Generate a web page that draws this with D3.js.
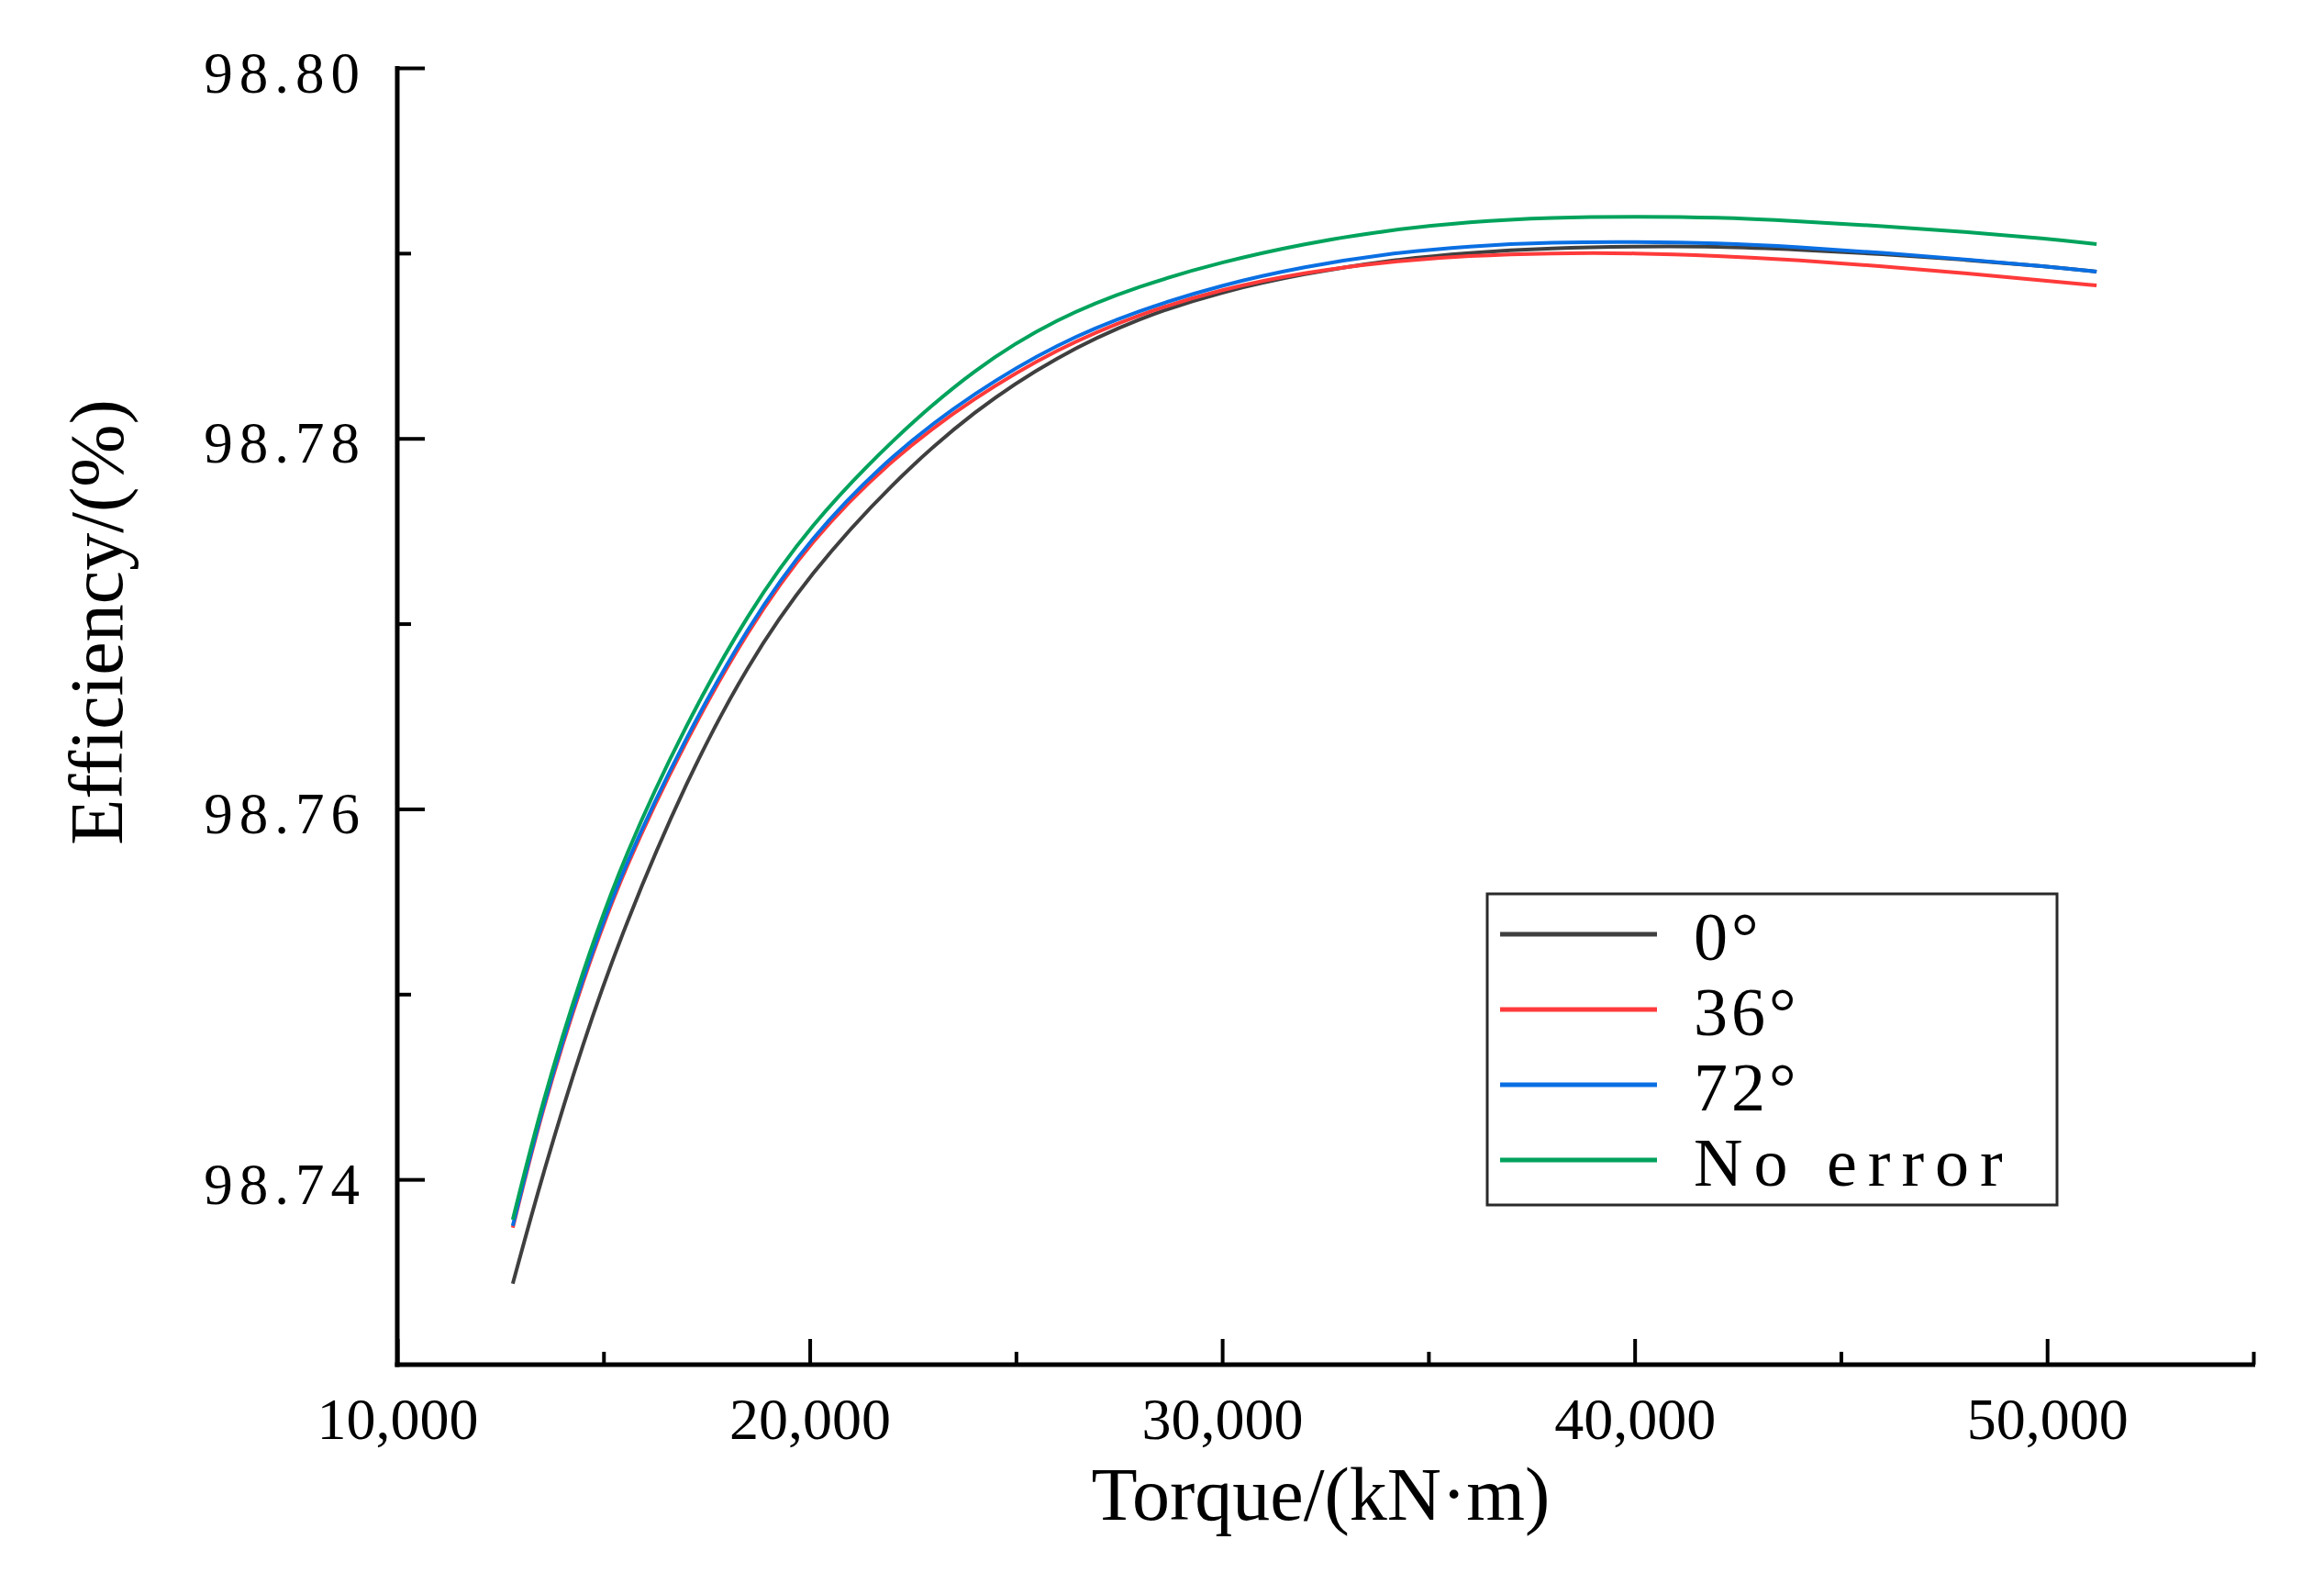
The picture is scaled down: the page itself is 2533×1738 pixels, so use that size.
<!DOCTYPE html>
<html>
<head>
<meta charset="utf-8">
<script src="https://cdn.jsdelivr.net/npm/d3@7/dist/d3.min.js"></script>
<style>
  html, body { margin: 0; padding: 0; background: #ffffff; }
  svg { display: block; }
</style>
</head>
<body>
<script>
// ---- data ----
const torque = [12800, 13500, 14500, 15500, 17000, 18500, 20000, 22000, 24000, 26000, 28000, 30000,
                32000, 34000, 36000, 38000, 40000, 42000, 44000, 46000, 48000, 50000, 51200];
const eff0deg = [98.73437, 98.74010, 98.74740, 98.75365, 98.76152, 98.76785, 98.77270, 98.77762,
                 98.78155, 98.78445, 98.78653, 98.78794, 98.78890, 98.78961, 98.79004, 98.79028,
                 98.79037, 98.79037, 98.79019, 98.78996, 98.78965, 98.78928, 98.78900];
const eff36deg = [98.73739, 98.74368, 98.75081, 98.75680, 98.76374, 98.76968, 98.77444, 98.77895,
                  98.78223, 98.78485, 98.78674, 98.78807, 98.78897, 98.78954, 98.78987, 98.79001,
                  98.79001, 98.78986, 98.78962, 98.78930, 98.78892, 98.78850, 98.78826];
const eff72deg = [98.73749, 98.74383, 98.75096, 98.75698, 98.76391, 98.76985, 98.77462, 98.77917,
                  98.78250, 98.78513, 98.78694, 98.78830, 98.78928, 98.78998, 98.79039, 98.79059,
                  98.79061, 98.79055, 98.79033, 98.79002, 98.78967, 98.78929, 98.78900];
const effNoError = [98.73783, 98.74407, 98.75131, 98.75747, 98.76460, 98.77058, 98.77530, 98.77995,
                    98.78380, 98.78651, 98.78825, 98.78954, 98.79052, 98.79124, 98.79171, 98.79193,
                    98.79198, 98.79194, 98.79172, 98.79147, 98.79116, 98.79078, 98.79049];
const seriesNames = ["0°", "36°", "72°", "No error"];
const seriesColors = ["#3f3f3f", "#ff3a3a", "#0a6fe3", "#00a35c"];
const xMajorTicks = [10000, 20000, 30000, 40000, 50000];
const xMinorTicks = [15000, 25000, 35000, 45000, 55000];
const yMajorTicks = [98.74, 98.76, 98.78, 98.80];
const yMinorTicks = [98.75, 98.77, 98.79];
const xTitle = "Torque/(kN·m)";
const yTitle = "Efficiency/(%)";

// ---- layout ----
const W = 2533, H = 1738;
const plotL = 433, plotR = 2456, plotT = 74, plotB = 1487;

const svg = d3.select("body").append("svg").attr("width", W).attr("height", H);
svg.append("rect").attr("width", W).attr("height", H).attr("fill", "#fff");

const x = d3.scaleLinear().domain([10000, 55000]).range([plotL, plotR]);
const y = d3.scaleLinear().domain([98.73, 98.80]).range([plotB, plotT]);

// ---- curves ----
const seriesValues = [eff0deg, eff36deg, eff72deg, effNoError];
const line = d3.line().x(d => x(d[0])).y(d => y(d[1])).curve(d3.curveBasis);
seriesValues.forEach((vals, i) => {
  svg.append("path")
    .datum(torque.map((t, j) => [t, vals[j]]))
    .attr("d", line)
    .attr("fill", "none")
    .attr("stroke", seriesColors[i])
    .attr("stroke-width", 4)
    .attr("stroke-linejoin", "round");
});

// ---- axes ----
const axisColor = "#000";
// x axis
const gx = svg.append("g").attr("transform", `translate(0,${plotB})`);
gx.call(d3.axisBottom(x).tickValues(xMajorTicks).tickSize(-28).tickFormat(d3.format(",")).tickPadding(0));
gx.select(".domain").remove();
gx.selectAll(".tick line").attr("stroke", axisColor).attr("stroke-width", 4);
gx.selectAll(".tick text")
  .attr("y", 81).attr("dy", 0)
  .attr("fill", "#000")
  .style("font-family", "'Liberation Serif', 'Times New Roman', serif")
  .style("font-size", "64px");
const gxm = svg.append("g").attr("transform", `translate(0,${plotB})`);
gxm.call(d3.axisBottom(x).tickValues(xMinorTicks).tickSize(-14).tickFormat(""));
gxm.select(".domain").remove();
gxm.selectAll(".tick line").attr("stroke", axisColor).attr("stroke-width", 4);

// y axis
const gy = svg.append("g").attr("transform", `translate(${plotL},0)`);
gy.call(d3.axisLeft(y).tickValues(yMajorTicks).tickSize(-30).tickFormat(d3.format(".2f")).tickPadding(0));
gy.select(".domain").remove();
gy.selectAll(".tick line").attr("stroke", axisColor).attr("stroke-width", 4);
gy.selectAll(".tick text")
  .attr("x", -34).attr("dy", 0).attr("y", 26)
  .attr("fill", "#000")
  .style("font-family", "'Liberation Serif', 'Times New Roman', serif")
  .style("font-size", "63px")
  .style("letter-spacing", "7px");
const gym = svg.append("g").attr("transform", `translate(${plotL},0)`);
gym.call(d3.axisLeft(y).tickValues(yMinorTicks).tickSize(-15).tickFormat(""));
gym.select(".domain").remove();
gym.selectAll(".tick line").attr("stroke", axisColor).attr("stroke-width", 4);

// axis lines
svg.append("line").attr("x1", plotL).attr("x2", plotL).attr("y1", plotT - 2).attr("y2", plotB + 2.5)
  .attr("stroke", axisColor).attr("stroke-width", 5);
svg.append("line").attr("x1", plotL - 2.5).attr("x2", plotR + 2).attr("y1", plotB).attr("y2", plotB)
  .attr("stroke", axisColor).attr("stroke-width", 5);

// ---- titles ----
svg.append("text")
  .attr("x", (plotL + plotR) / 2 - 5).attr("y", 1656)
  .attr("text-anchor", "middle")
  .style("font-family", "'Liberation Serif', 'Times New Roman', serif")
  .style("font-size", "82px")
  .attr("fill", "#000")
  .text(xTitle);
svg.append("text")
  .attr("transform", `translate(133,${678}) rotate(-90)`)
  .attr("text-anchor", "middle")
  .style("font-family", "'Liberation Serif', 'Times New Roman', serif")
  .style("font-size", "82px")
  .attr("fill", "#000")
  .text(yTitle);

// ---- legend ----
const lg = svg.append("g");
lg.append("rect").attr("x", 1621).attr("y", 974).attr("width", 621).attr("height", 339)
  .attr("fill", "#fff").attr("stroke", "#2a2a2a").attr("stroke-width", 3);
const legendRowY = d3.scaleLinear().domain([0, 3]).range([1018, 1264]);
seriesNames.forEach((name, i) => {
  const yy = legendRowY(i);
  lg.append("line").attr("x1", 1635).attr("x2", 1806).attr("y1", yy).attr("y2", yy)
    .attr("stroke", seriesColors[i]).attr("stroke-width", 5);
  lg.append("text").attr("x", 1846).attr("y", yy + 28)
    .style("font-family", "'Liberation Serif', 'Times New Roman', serif")
    .style("font-size", "74px")
    .style("letter-spacing", name === "No error" ? "12px" : "4px")
    .attr("fill", "#000")
    .text(name);
});
</script>
</body>
</html>
